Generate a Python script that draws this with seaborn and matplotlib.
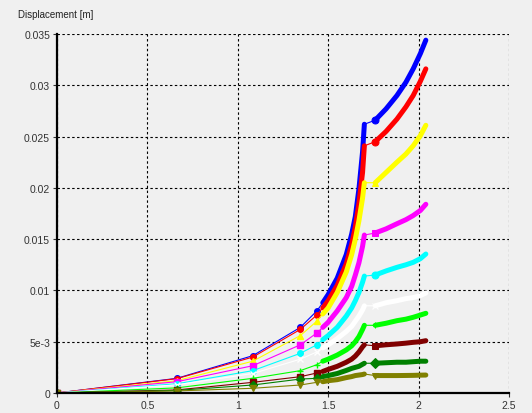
import numpy as np
import pandas as pd
import matplotlib
matplotlib.use("Agg")
import matplotlib.pyplot as plt
import seaborn as sns

# shared x positions: 5 sparse load steps, then two dense stretches
x_pts = [0, 0.663, 1.083, 1.346, 1.437,
         1.47, 1.50, 1.55, 1.60, 1.63, 1.65, 1.67, 1.69, 1.70,
         1.76, 1.82, 1.88, 1.93, 1.97, 2.01, 2.04]

blue_y = [0, 0.00143, 0.00364, 0.0064, 0.0080,
          0.0088, 0.0096, 0.0112, 0.0135, 0.0155, 0.0172, 0.0199, 0.0235, 0.0262,
          0.0266, 0.0277, 0.0290, 0.0303, 0.0316, 0.0331, 0.0344]
red_y = [0, 0.0014, 0.0035, 0.0062, 0.0076,
         0.0083, 0.0090, 0.0105, 0.0126, 0.0145, 0.0162, 0.0185, 0.0215, 0.0241,
         0.0245, 0.0255, 0.0267, 0.0279, 0.0290, 0.0304, 0.0316]
yellow_y = [0, 0.0012, 0.0031, 0.0056, 0.0070,
            0.0077, 0.0083, 0.0098, 0.0118, 0.0135, 0.0150, 0.0168, 0.0190, 0.0205,
            0.0205, 0.0215, 0.0225, 0.0233, 0.0241, 0.0251, 0.0261]
magenta_y = [0, 0.0011, 0.00266, 0.0047, 0.00585,
             0.0064, 0.0069, 0.0080, 0.0093, 0.0104, 0.0115, 0.0127, 0.0143, 0.0154,
             0.0156, 0.0160, 0.0165, 0.0169, 0.0173, 0.0178, 0.0184]
cyan_y = [0, 0.0009, 0.00218, 0.00387, 0.0047,
          0.0052, 0.0056, 0.0064, 0.0075, 0.0083, 0.0090, 0.0098, 0.0108, 0.0114,
          0.0115, 0.0119, 0.01225, 0.0125, 0.01274, 0.0131, 0.01355]
white_y = [0, 0.0008, 0.0019, 0.0033, 0.0040,
           0.0044, 0.0047, 0.0053, 0.0060, 0.0065, 0.0070, 0.0075, 0.0081, 0.0085,
           0.0085, 0.0088, 0.0090, 0.0092, 0.0093, 0.0095, 0.00975]
lime_y = [0, 0.0005, 0.00143, 0.00218, 0.00276,
          0.0031, 0.0033, 0.0037, 0.0042, 0.0046, 0.0050, 0.0055, 0.0062, 0.0066,
          0.0066, 0.0068, 0.00705, 0.0072, 0.00738, 0.0076, 0.00777]
maroon_y = [0, 0.0003, 0.00104, 0.00159, 0.00195,
            0.0021, 0.0023, 0.0026, 0.0030, 0.0033, 0.0036, 0.0040, 0.0045, 0.0047,
            0.0046, 0.0047, 0.00478, 0.00486, 0.00494, 0.0050, 0.0051]
dkgreen_y = [0, 0.00025, 0.00078, 0.00136, 0.00143,
             0.0016, 0.0017, 0.0019, 0.0022, 0.0024, 0.0025, 0.0026, 0.0028, 0.0029,
             0.0029, 0.00295, 0.0030, 0.0030, 0.00305, 0.0031, 0.0031]
olive_y = [0, 0.0002, 0.00046, 0.00078, 0.00104,
           0.0011, 0.0012, 0.0013, 0.0015, 0.0016, 0.0017, 0.00175, 0.0018, 0.00185,
           0.0017, 0.0017, 0.0017, 0.00171, 0.00172, 0.00174, 0.00175]

series = [
    (blue_y, "#0000ff", "o"),
    (red_y, "#ff0000", "o"),
    (yellow_y, "#ffff00", "^"),
    (magenta_y, "#ff00ff", "s"),
    (cyan_y, "#00ffff", "o"),
    (white_y, "#ffffff", "x"),
    (lime_y, "#00ff00", "+"),
    (maroon_y, "#800000", "s"),
    (dkgreen_y, "#008000", "D"),
    (olive_y, "#808000", "v"),
]

x_ticks = [0, 0.5, 1, 1.5, 2, 2.5]
x_labels = ["0", "0.5", "1", "1.5", "2", "2.5"]
y_ticks = [0, 0.005, 0.01, 0.015, 0.02, 0.025, 0.03, 0.035]
y_labels = ["0", "5e-3", "0.01", "0.015", "0.02", "0.025", "0.03", "0.035"]

sns.set_theme(style="ticks")
plt.rcParams["font.family"] = ["Liberation Sans", "DejaVu Sans"]

bg = "#f0f0f0"
fig = plt.figure(figsize=(5.32, 4.14), dpi=100, facecolor=bg)
ax = fig.add_axes([57 / 532, 20 / 414, 452 / 532, 359 / 414])
ax.set_facecolor(bg)

for ys, col, mk in series:
    df = pd.DataFrame({"x": x_pts, "y": ys})
    # thin connecting line through all steps
    sns.lineplot(data=df, x="x", y="y", color=col, lw=0.8, sort=False,
                 estimator=None, ax=ax)
    # sparse steps with markers
    sns.lineplot(data=df.iloc[:5], x="x", y="y", color=col, lw=0, marker=mk,
                 markersize=4, markeredgecolor=col, markeredgewidth=1,
                 sort=False, estimator=None, ax=ax)
    # dense stretches drawn thick
    for a, b in [(5, 14), (14, 21)]:
        sns.lineplot(data=df.iloc[a:b], x="x", y="y", color=col, lw=3.6,
                     sort=False, estimator=None, ax=ax,
                     solid_capstyle="round", solid_joinstyle="round")
    sns.lineplot(data=df.iloc[[14]], x="x", y="y", color=col, lw=0, marker=mk,
                 markersize=5, markeredgecolor=col, sort=False,
                 estimator=None, ax=ax)

ax.set_xlim(0, 2.5)
ax.set_ylim(0, 0.035)
ax.set_xticks(x_ticks)
ax.set_xticklabels(x_labels)
ax.set_yticks(y_ticks)
ax.set_yticklabels(y_labels)
ax.set_xlabel("")
ax.set_ylabel("")
ax.grid(True, color="black", ls=(0, (2.2, 2.2)), lw=0.8)
ax.set_axisbelow(True)
for s in ["top", "right"]:
    ax.spines[s].set_visible(False)
for s in ["left", "bottom"]:
    ax.spines[s].set_color("black")
    ax.spines[s].set_linewidth(1.6)
ax.tick_params(labelsize=7.5, colors="#333333", length=3, width=0.8, pad=2)

fig.text(18 / 532, 1 - 15 / 414, "Displacement [m]", fontsize=7,
         color="#222222", va="center", ha="left")

fig.savefig("out.png", dpi=100, facecolor=bg)
